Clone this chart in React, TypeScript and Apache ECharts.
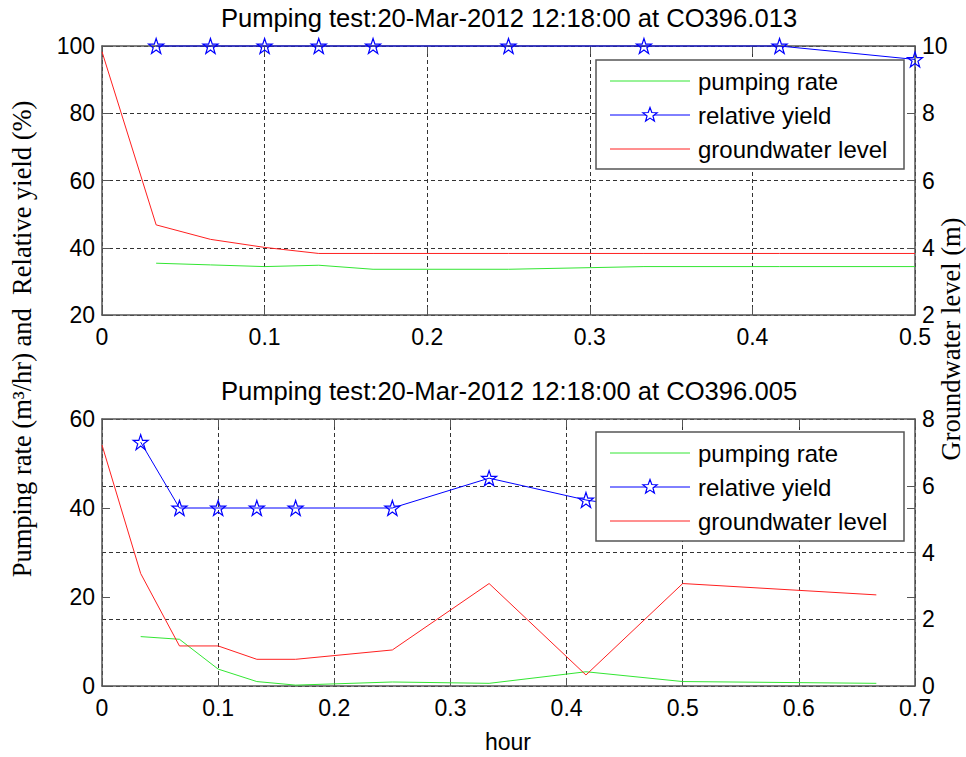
import React, { useEffect, useRef } from "react";
import * as echarts from "echarts";

// ---- data ----
const hoursTop = [0, 0.0333, 0.0667, 0.1, 0.1333, 0.1667, 0.25, 0.3333, 0.4167, 0.5];
const rateTop = [null, 35.4, 34.9, 34.4, 34.8, 33.6, 33.6, 34.4, 34.4, 34.4];
const yieldTop = [null, 100, 100, 100, 100, 100, 100, 100, 100, 96];
const levelTop = [9.83, 4.68, 4.25, 4.01, 3.83, 3.83, 3.83, 3.83, 3.83, 3.83];

const hoursBottom = [0, 0.0333, 0.0667, 0.1, 0.1333, 0.1667, 0.25, 0.3333, 0.4167, 0.5, 0.6667];
const rateBottom = [null, 11.1, 10.5, 3.8, 1.0, 0.2, 0.9, 0.6, 3.2, 1.0, 0.6];
const yieldBottom = [null, 54.8, 40, 40, 40, 40, 40, 46.7, 41.8, 38.5, 40];
const levelBottom = [7.22, 3.37, 1.2, 1.2, 0.8, 0.8, 1.08, 3.07, 0.33, 3.07, 2.73];

const seriesNames = ["pumping rate", "relative yield", "groundwater level"];
const seriesColors = ["#33e633", "#0000ff", "#ff2020"];
const titleTop = "Pumping test:20-Mar-2012 12:18:00 at CO396.013";
const titleBottom = "Pumping test:20-Mar-2012 12:18:00 at CO396.005";
const leftAxisName = "Pumping rate (m\u00B3/hr) and  Relative yield (%)";
const rightAxisName = "Groundwater level (m)";
const xAxisName = "hour";

const STAR =
  "path://M12,1 L14.6,8.6 L22.5,8.6 L16.1,13.3 L18.5,21 L12,16.3 L5.5,21 L7.9,13.3 L1.5,8.6 L9.4,8.6 Z";

const SANS = '"Liberation Sans", Arial, Helvetica, sans-serif';
const SERIF = '"Liberation Serif", "Times New Roman", serif';
const AXIS_COLOR = "#555";
const GRID_DASH = { color: "#333", width: 1, type: [4, 3] as any };

const pair = (xs: number[], ys: (number | null)[]) =>
  xs.map((x, i) => [x, ys[i]]).filter((p) => p[1] !== null);

function starPoints(cx: number, cy: number, r: number, ri: number) {
  const pts: number[][] = [];
  for (let k = 0; k < 10; k++) {
    const a = -Math.PI / 2 + (k * Math.PI) / 5;
    const rr = k % 2 === 0 ? r : ri;
    pts.push([cx + rr * Math.cos(a), cy + rr * Math.sin(a)]);
  }
  return pts;
}

function legendGraphic(top: number) {
  const left = 596;
  const rows = [top + 21, top + 55, top + 89];
  const els: any[] = [
    {
      type: "rect",
      z: 100,
      shape: { x: left, y: top, width: 308, height: 109 },
      style: { fill: "#fff", stroke: AXIS_COLOR, lineWidth: 1.5 },
    },
  ];
  rows.forEach((y, i) => {
    els.push({
      type: "line",
      z: 101,
      shape: { x1: 610, y1: y, x2: 690, y2: y },
      style: { stroke: seriesColors[i], lineWidth: 1 },
    });
    if (i === 1) {
      els.push({
        type: "polygon",
        z: 102,
        shape: { points: starPoints(650, y, 7.5, 3.1) },
        style: { fill: "#fff", stroke: seriesColors[i], lineWidth: 1.2 },
      });
    }
    els.push({
      type: "text",
      z: 101,
      x: 698,
      y,
      style: {
        text: seriesNames[i],
        font: `24px ${SANS}`,
        fill: "#000",
        textAlign: "left",
        textVerticalAlign: "middle",
      },
    });
  });
  return els;
}

export default function App() {
  const ref = useRef<HTMLDivElement>(null);
  useEffect(() => {
    document.body.style.margin = "0";
    const chart = echarts.init(ref.current!, null, { renderer: "svg" });

    const tickLabel = { fontSize: 23, color: "#000", fontFamily: SANS };
    const baseX = (gridIndex: number, max: number, showLabel: boolean, position: string) => ({
      type: "value",
      gridIndex,
      position,
      min: 0,
      max,
      interval: 0.1,
      axisLine: { show: true, onZero: false, lineStyle: { color: AXIS_COLOR, width: 1.5 } },
      axisTick: { show: true, inside: true, length: 8, lineStyle: { color: AXIS_COLOR, width: 1 } },
      axisLabel: { show: showLabel, ...tickLabel, margin: 10 },
      splitLine: { show: showLabel, lineStyle: GRID_DASH },
    });
    const baseY = (
      gridIndex: number,
      min: number,
      max: number,
      interval: number,
      position: string,
      opts: { label: boolean; split: boolean; line: boolean }
    ) => ({
      type: "value",
      gridIndex,
      position,
      min,
      max,
      interval,
      axisLine: { show: opts.line, onZero: false, lineStyle: { color: AXIS_COLOR, width: 1.5 } },
      axisTick: { show: true, inside: true, length: 8, lineStyle: { color: AXIS_COLOR, width: 1 } },
      axisLabel: { show: opts.label, ...tickLabel, margin: 7 },
      splitLine: { show: opts.split, lineStyle: GRID_DASH },
    });

    const lineS = (i: number, xi: number, yi: number, data: any[], star = false) => ({
      type: "line",
      name: seriesNames[i],
      xAxisIndex: xi,
      yAxisIndex: yi,
      data,
      clip: false,
      color: seriesColors[i],
      lineStyle: { color: seriesColors[i], width: 1 },
      symbol: star ? STAR : "none",
      symbolSize: 15,
      showSymbol: star,
      itemStyle: star
        ? { color: "rgba(255,255,255,0)", borderColor: seriesColors[i], borderWidth: 1.2 }
        : { color: seriesColors[i] },
      emphasis: { disabled: true },
      z: 3,
    });

    chart.setOption({
      animation: false,
      backgroundColor: "#fff",
      grid: [
        { left: 102, top: 46, width: 813, height: 269 },
        { left: 102, top: 419, width: 813, height: 267 },
      ],
      xAxis: [
        baseX(0, 0.5, true, "bottom"),
        baseX(0, 0.5, false, "top"),
        baseX(1, 0.7, true, "bottom"),
        baseX(1, 0.7, false, "top"),
      ],
      yAxis: [
        baseY(0, 20, 100, 20, "left", { label: true, split: true, line: true }),
        baseY(0, 2, 10, 2, "right", { label: true, split: false, line: true }),
        baseY(1, 0, 60, 20, "left", { label: true, split: false, line: true }),
        baseY(1, 0, 8, 2, "right", { label: true, split: true, line: true }),
        baseY(1, 0, 60, 20, "right", { label: false, split: false, line: false }),
      ],
      series: [
        lineS(0, 0, 0, pair(hoursTop, rateTop)),
        lineS(1, 0, 0, pair(hoursTop, yieldTop), true),
        lineS(2, 0, 1, pair(hoursTop, levelTop)),
        lineS(0, 2, 2, pair(hoursBottom, rateBottom)),
        lineS(1, 2, 2, pair(hoursBottom, yieldBottom), true),
        lineS(2, 2, 3, pair(hoursBottom, levelBottom)),
      ],
      graphic: [
        ...legendGraphic(60),
        ...legendGraphic(432),
        {
          type: "text",
          x: 509,
          y: 18,
          style: { text: titleTop, font: `25.6px ${SANS}`, fill: "#000", textAlign: "center", textVerticalAlign: "middle" },
        },
        {
          type: "text",
          x: 509,
          y: 391,
          style: { text: titleBottom, font: `25.6px ${SANS}`, fill: "#000", textAlign: "center", textVerticalAlign: "middle" },
        },
        {
          type: "text",
          x: 508,
          y: 742,
          style: { text: xAxisName, font: `23px ${SANS}`, fill: "#000", textAlign: "center", textVerticalAlign: "middle" },
        },
        {
          type: "text",
          x: 22,
          y: 339,
          rotation: Math.PI / 2,
          style: { text: leftAxisName, font: `26.5px ${SERIF}`, fill: "#000", textAlign: "center", textVerticalAlign: "middle" },
        },
        {
          type: "text",
          x: 951,
          y: 339,
          rotation: Math.PI / 2,
          style: { text: rightAxisName, font: `26.5px ${SERIF}`, fill: "#000", textAlign: "center", textVerticalAlign: "middle" },
        },
      ],
    });
    return () => chart.dispose();
  }, []);
  return <div ref={ref} style={{ width: 966, height: 757 }} />;
}
